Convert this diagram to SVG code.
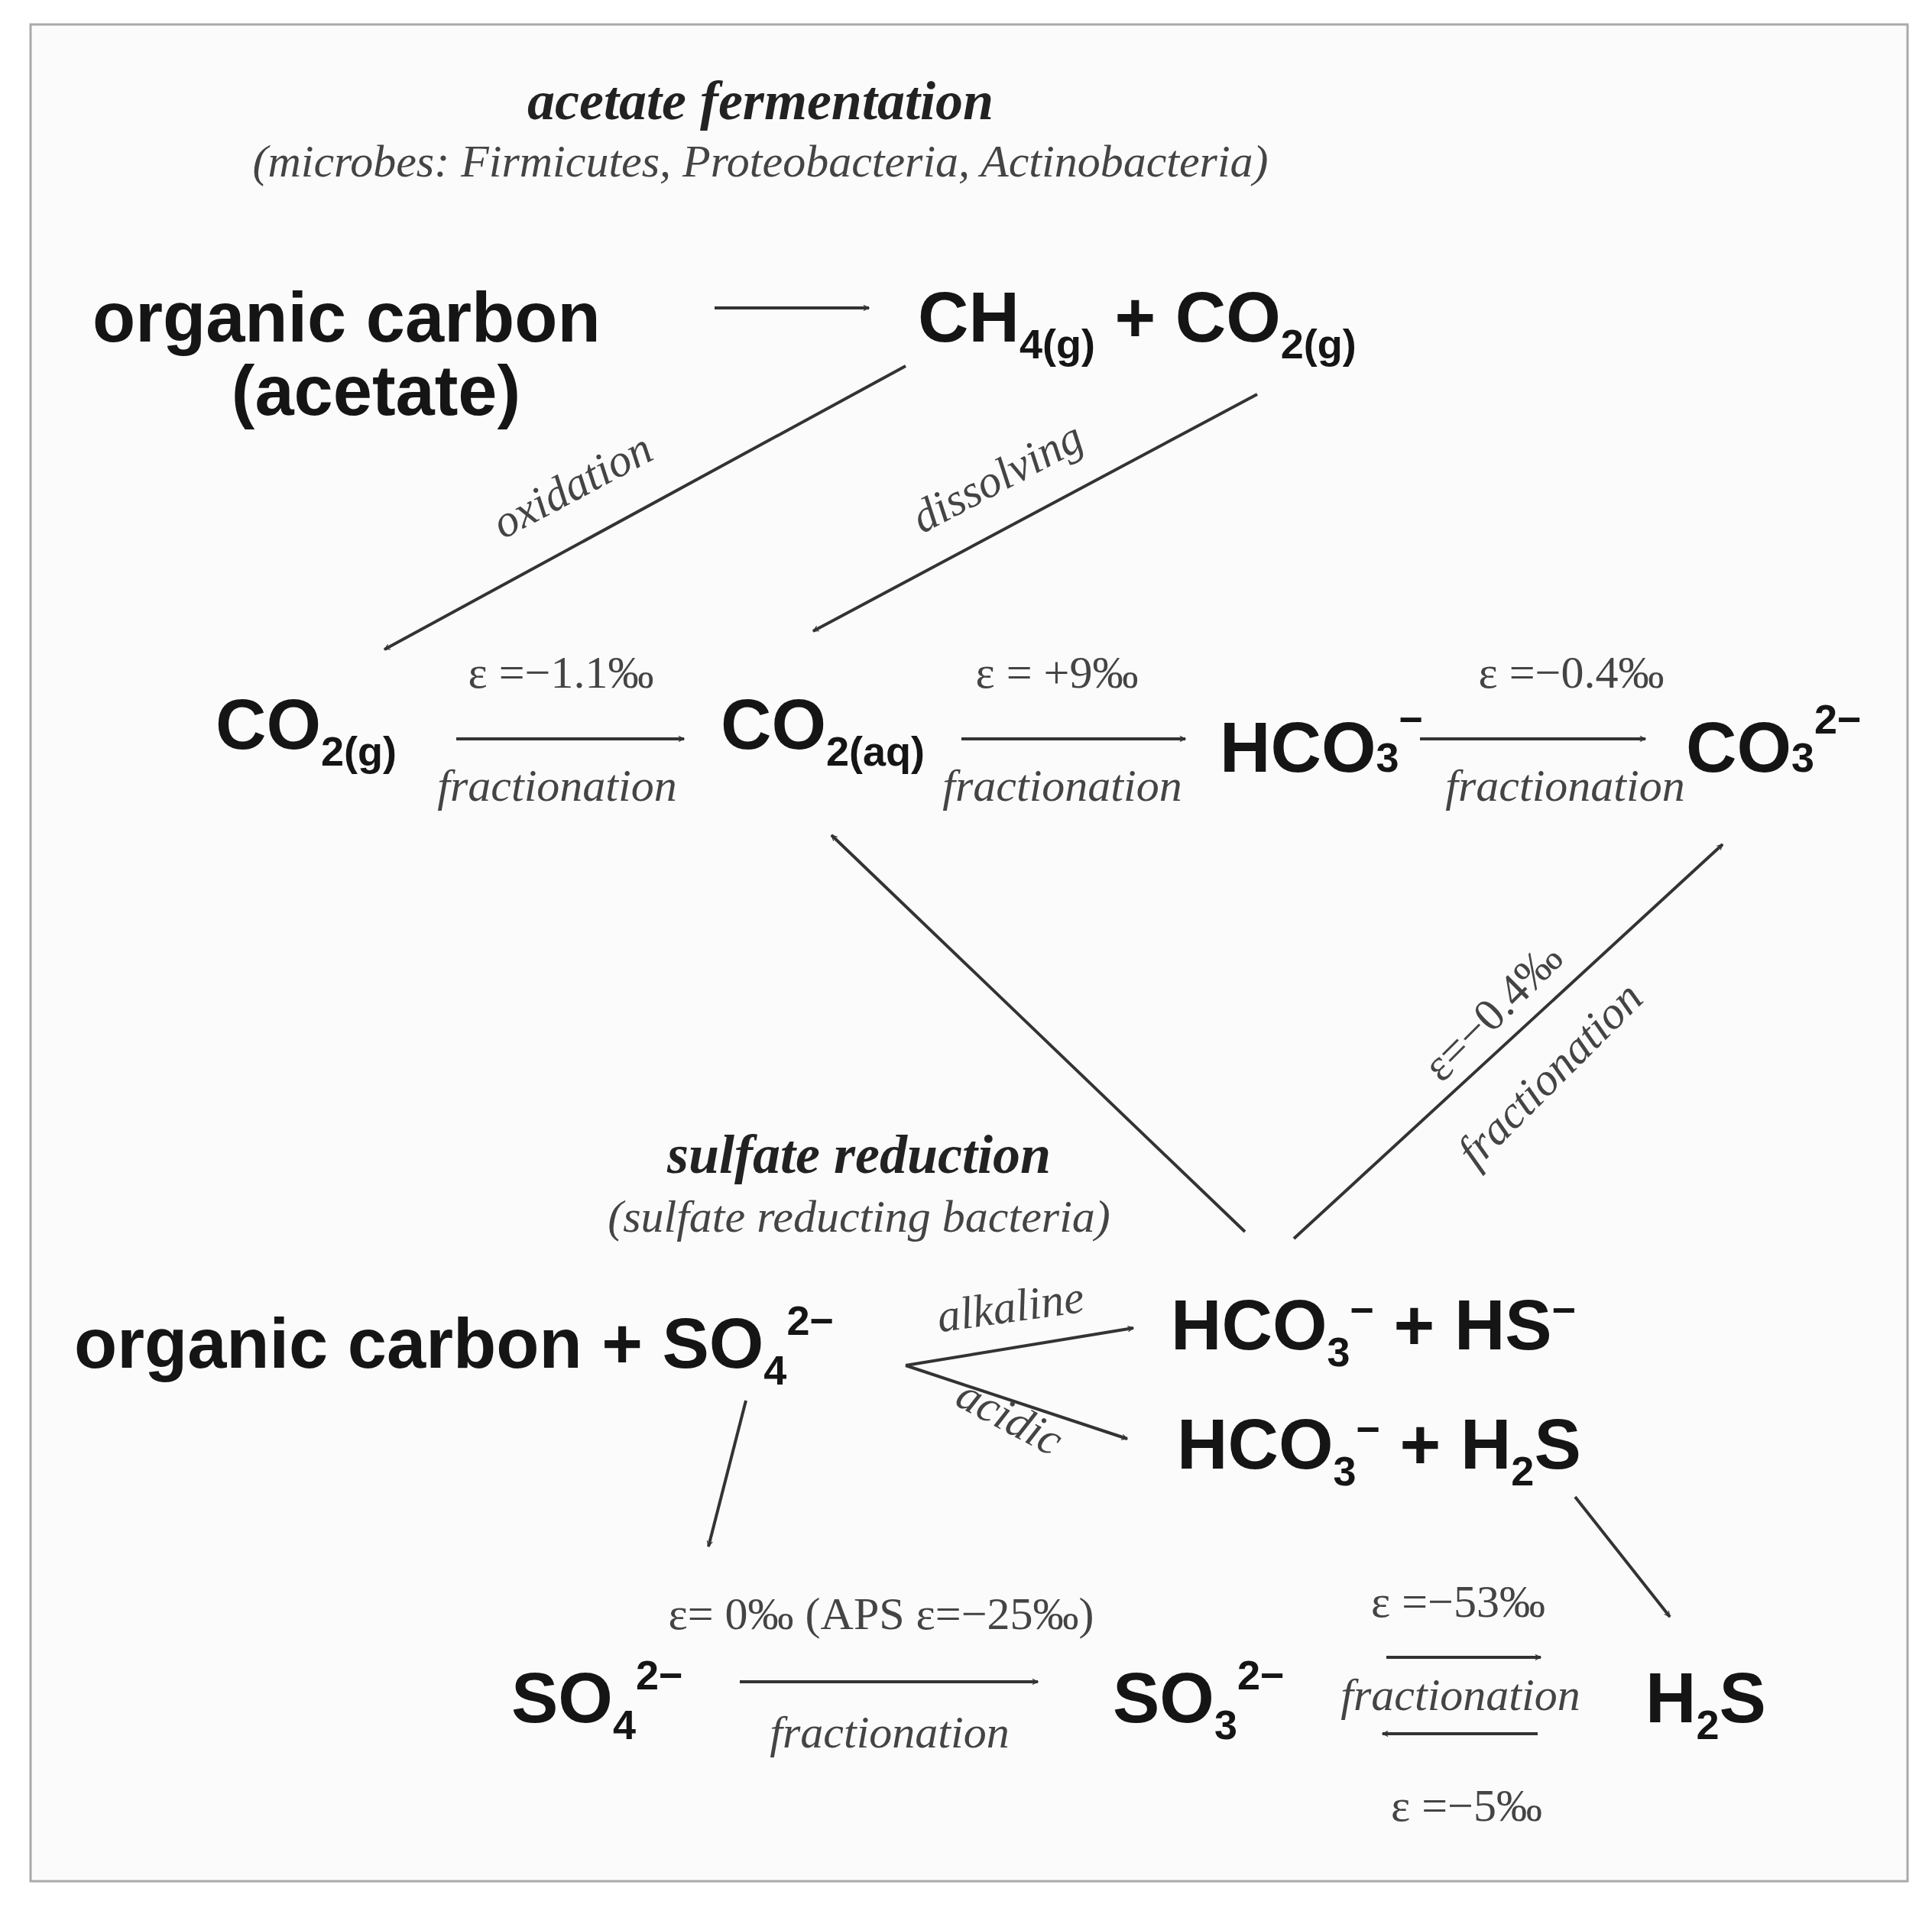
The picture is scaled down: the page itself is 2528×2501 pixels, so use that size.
<svg xmlns="http://www.w3.org/2000/svg" width="2528" height="2501" viewBox="0 0 2528 2501">
<style>
.m{font-family:"Liberation Sans",Arial,sans-serif;font-weight:bold;font-size:92px;fill:#151515}
.s{font-size:54px}
.t{font-family:"Liberation Serif","Times New Roman",serif;font-size:60px;fill:#444}
.i{font-style:italic}
.h{font-family:"Liberation Serif",serif;font-style:italic;font-weight:bold;font-size:72px;fill:#222}
.c line{stroke:#333;stroke-width:4}
</style>
<defs><marker id="a" viewBox="0 0 20 20" refX="18" refY="10" markerWidth="9" markerHeight="9" markerUnits="userSpaceOnUse" orient="auto"><path d="M2,2 L18,10 L2,18" fill="none" stroke="#333" stroke-width="2.5"/></marker>
</defs>
<rect x="0" y="0" width="2528" height="2501" fill="#fff"/>
<rect x="40" y="32" width="2456" height="2430" fill="#fbfbfb" stroke="#aaa" stroke-width="3"/>
<g id="titles">
<text class="h" x="995" y="156" text-anchor="middle">acetate fermentation</text>
<text class="t i" x="995" y="231" text-anchor="middle" font-size="58">(microbes: Firmicutes, Proteobacteria, Actinobacteria)</text>
<text class="h" x="1124" y="1535" text-anchor="middle">sulfate reduction</text>
<text class="t i" x="1124" y="1612" text-anchor="middle" font-size="58">(sulfate reducting bacteria)</text>
</g>
<g id="n-org"><text class="m" x="121" y="447">organic carbon</text><text class="m" x="492" y="543" text-anchor="middle">(acetate)</text></g>
<g id="n-gas"><text class="m" x="1201" y="447">CH<tspan class="s" dy="22">4(g)</tspan><tspan dy="-22"> + CO</tspan><tspan class="s" dy="22">2(g)</tspan></text></g>
<g id="n-co2g"><text class="m" x="282" y="980">CO<tspan class="s" dy="22">2(g)</tspan></text></g>
<g id="n-co2aq"><text class="m" x="943" y="980">CO<tspan class="s" dy="22">2(aq)</tspan></text></g>
<g id="n-hco3"><text class="m" x="1596" y="1010">HCO<tspan class="s" dy="0">3</tspan><tspan class="s" dy="-50">−</tspan></text></g>
<g id="n-co3"><text class="m" x="2206" y="1010">CO<tspan class="s">3</tspan><tspan class="s" dy="-50">2−</tspan></text></g>
<g id="n-orgso4"><text class="m" x="97" y="1790">organic carbon + SO<tspan class="s" dy="22">4</tspan><tspan class="s" dy="-65">2−</tspan></text></g>
<g id="n-hs"><text class="m" x="1532" y="1766">HCO<tspan class="s" dy="22">3</tspan><tspan class="s" dy="-55">−</tspan><tspan dy="33"> + HS</tspan><tspan class="s" dy="-33">−</tspan></text></g>
<g id="n-h2s1"><text class="m" x="1540" y="1922">HCO<tspan class="s" dy="22">3</tspan><tspan class="s" dy="-55">−</tspan><tspan dy="33"> + H</tspan><tspan class="s" dy="22">2</tspan><tspan dy="-22">S</tspan></text></g>
<g id="n-so4"><text class="m" x="669" y="2254">SO<tspan class="s" dy="22">4</tspan><tspan class="s" dy="-65">2−</tspan></text></g>
<g id="n-so3"><text class="m" x="1456" y="2254">SO<tspan class="s" dy="22">3</tspan><tspan class="s" dy="-65">2−</tspan></text></g>
<g id="n-h2s2"><text class="m" x="2153" y="2254">H<tspan class="s" dy="22">2</tspan><tspan dy="-22">S</tspan></text></g>
<g class="c" id="connectors">
<line x1="935" y1="403" x2="1137" y2="403" marker-end="url(#a)"/>
<line x1="1185" y1="479" x2="503" y2="850" marker-end="url(#a)"/>
<line x1="1645" y1="516" x2="1064" y2="826" marker-end="url(#a)"/>
<line x1="597" y1="967" x2="895" y2="967" marker-end="url(#a)"/>
<line x1="1258" y1="967" x2="1551" y2="967" marker-end="url(#a)"/>
<line x1="1858" y1="967" x2="2153" y2="967" marker-end="url(#a)"/>
<line x1="1629" y1="1612" x2="1088" y2="1093" marker-end="url(#a)"/>
<line x1="1693" y1="1621" x2="2254" y2="1105" marker-end="url(#a)"/>
<line x1="1185" y1="1787" x2="1483" y2="1738" marker-end="url(#a)"/>
<line x1="1185" y1="1787" x2="1475" y2="1883" marker-end="url(#a)"/>
<line x1="976" y1="1833" x2="927" y2="2024" marker-end="url(#a)"/>
<line x1="2061" y1="1959" x2="2185" y2="2116" marker-end="url(#a)"/>
<line x1="968" y1="2201" x2="1358" y2="2201" marker-end="url(#a)"/>
<line x1="1814" y1="2169" x2="2016" y2="2169" marker-end="url(#a)"/>
<line x1="2012" y1="2269" x2="1809" y2="2269" marker-end="url(#a)"/>
</g>
<g id="labels">
<text class="t i" transform="translate(758,653) rotate(-28)" text-anchor="middle">oxidation</text>
<text class="t i" transform="translate(1314,642) rotate(-28)" text-anchor="middle">dissolving</text>
<text class="t" x="734" y="900" text-anchor="middle">ε =−1.1‰</text>
<text class="t" x="1383" y="900" text-anchor="middle">ε = +9‰</text>
<text class="t" x="2056" y="900" text-anchor="middle">ε =−0.4‰</text>
<text class="t i" x="729" y="1048" text-anchor="middle">fractionation</text>
<text class="t i" x="1390" y="1048" text-anchor="middle">fractionation</text>
<text class="t i" x="2048" y="1048" text-anchor="middle">fractionation</text>
<text class="t" transform="translate(1967,1338) rotate(-45)" text-anchor="middle">ε=−0.4‰</text>
<text class="t i" transform="translate(2042,1420) rotate(-45)" text-anchor="middle">fractionation</text>
<text class="t i" transform="translate(1325,1730) rotate(-8)" text-anchor="middle">alkaline</text>
<text class="t i" transform="translate(1312,1872) rotate(28)" text-anchor="middle">acidic</text>
<text class="t" x="1153" y="2132" text-anchor="middle">ε= 0‰ (APS  ε=−25‰)</text>
<text class="t i" x="1164" y="2287" text-anchor="middle">fractionation</text>
<text class="t" x="1908" y="2116" text-anchor="middle">ε =−53‰</text>
<text class="t i" x="1911" y="2238" text-anchor="middle">fractionation</text>
<text class="t" x="1919" y="2383" text-anchor="middle">ε =−5‰</text>
</g>
</svg>
